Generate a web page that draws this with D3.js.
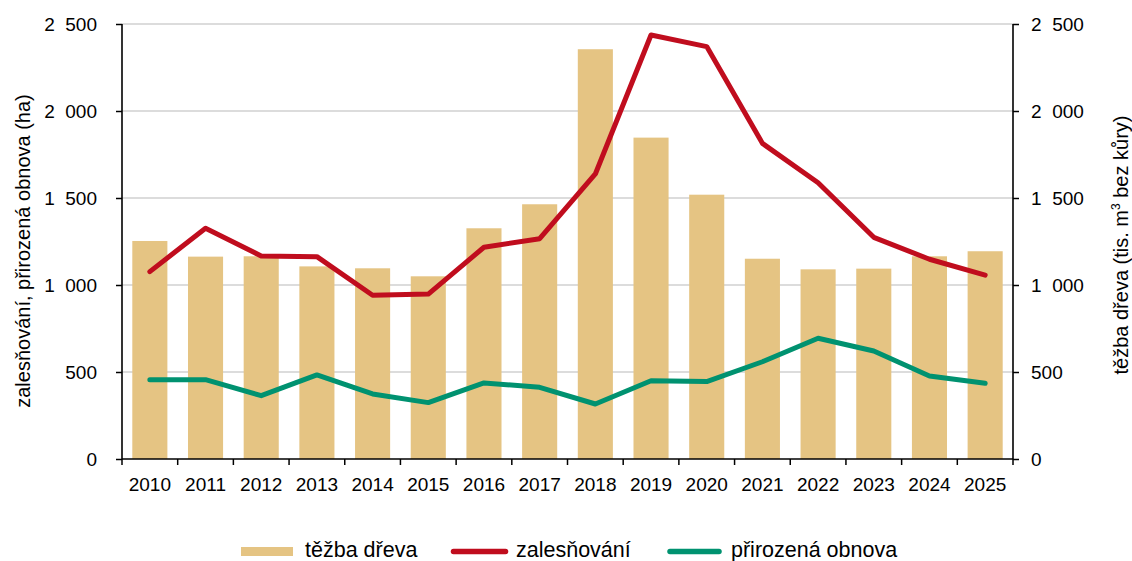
<!DOCTYPE html>
<html><head><meta charset="utf-8">
<script src="https://cdn.jsdelivr.net/npm/d3@7"></script>
<style>body{margin:0;background:#fff}svg{display:block}text{font-family:"Liberation Sans",Arial,sans-serif;fill:#000}</style>
</head><body>
<svg id="c" width="1132" height="561"></svg>
<script>
const years = ["2010","2011","2012","2013","2014","2015","2016","2017","2018","2019","2020","2021","2022","2023","2024","2025"];
const tezba = [1253,1163,1165,1107,1096,1050,1326,1464,2355,1847,1519,1151,1090,1094,1165,1194];
const zalesnovani = [1077,1326,1167,1163,941,948,1217,1266,1638,2437,2370,1814,1588,1274,1148,1057];
const obnova = [456,456,364,483,374,324,437,412,316,450,445,559,694,621,477,435];
const yTicks = [0,500,1000,1500,2000,2500];
const seriesNames = ["těžba dřeva","zalesňování","přirozená obnova"];
const leftTitle = "zalesňování, přirozená obnova (ha)";

const svg = d3.select("#c");
const L=122, R=1013, T=24, B=459;
const x = d3.scaleBand().domain(years).range([L,R]).paddingInner(0.37).paddingOuter(0.185);
const xStep = d3.scalePoint().domain(years).range([L,R]).padding(0.5);
const yL = d3.scaleLinear().domain([0,2500]).range([B,T]);
const yR = d3.scaleLinear().domain([0,2500]).range([B,T]);
const fmt = v => d3.format(",")(v).replace(/,/g,"\u2007");

// grid
svg.append("g").selectAll("line").data(yTicks.filter(d=>d>0)).join("line")
  .attr("x1",L).attr("x2",R).attr("y1",d=>yL(d)).attr("y2",d=>yL(d))
  .attr("stroke","#d0d0d0").attr("stroke-width",1.3);

// bars
svg.append("g").selectAll("rect").data(tezba).join("rect")
  .attr("x",(d,i)=>x(years[i])).attr("width",x.bandwidth())
  .attr("y",d=>yR(d)).attr("height",d=>B-yR(d)).attr("fill","#e5c483");

// lines
const line = d3.line().x((d,i)=>xStep(years[i])).y(d=>yL(d));
svg.append("path").datum(zalesnovani).attr("d",line).attr("fill","none")
  .attr("stroke","#c00d1e").attr("stroke-width",5).attr("stroke-linecap","round").attr("stroke-linejoin","round");
svg.append("path").datum(obnova).attr("d",line).attr("fill","none")
  .attr("stroke","#009270").attr("stroke-width",5).attr("stroke-linecap","round").attr("stroke-linejoin","round");

// axes
const axL = svg.append("g").attr("transform",`translate(${L},0)`)
  .call(d3.axisLeft(yL).tickValues(yTicks).tickFormat(fmt).tickSize(6).tickPadding(19));
const axR = svg.append("g").attr("transform",`translate(${R},0)`)
  .call(d3.axisRight(yR).tickValues(yTicks).tickFormat(fmt).tickSize(6).tickPadding(12));
const axB = svg.append("g").attr("transform",`translate(0,${B})`)
  .call(d3.axisBottom(x).tickSize(0).tickPadding(19));
// x tick marks between categories
svg.append("g").selectAll("line").data(d3.range(years.length+1)).join("line")
  .attr("x1",i=>L+i*(R-L)/years.length).attr("x2",i=>L+i*(R-L)/years.length)
  .attr("y1",B).attr("y2",B+6).attr("stroke","#000").attr("stroke-width",1.5);
[axL,axR,axB].forEach(a=>{
  a.selectAll(".domain").attr("stroke","#000").attr("stroke-width",1.6);
  a.selectAll(".tick line").attr("stroke","#000").attr("stroke-width",1.5);
  a.selectAll("text").style("font-size","19px").attr("fill","#000");
});
axL.select(".domain").attr("d",`M0,${T}V${B}`);
axR.select(".domain").attr("d",`M0,${T}V${B}`);
axB.select(".domain").attr("d",`M${L},0H${R}`);

// axis titles
svg.append("text").attr("transform",`translate(30,251) rotate(-90)`)
  .attr("text-anchor","middle").style("font-size","20px").text(leftTitle);
const rt = svg.append("text").attr("transform",`translate(1128,245) rotate(-90)`)
  .attr("text-anchor","middle").style("font-size","20px");
rt.append("tspan").text("těžba dřeva (tis. m");
rt.append("tspan").attr("dy",-8).style("font-size","12px").text("3");
rt.append("tspan").attr("dy",8).text(" bez kůry)");

// legend
const lg = svg.append("g");
lg.append("rect").attr("x",241).attr("y",547).attr("width",52).attr("height",9).attr("fill","#e5c483");
lg.append("text").attr("x",305).attr("y",557).style("font-size","21.5px").text(seriesNames[0]);
lg.append("line").attr("x1",453.5).attr("x2",505.5).attr("y1",551.5).attr("y2",551.5)
  .attr("stroke","#c00d1e").attr("stroke-width",5.5).attr("stroke-linecap","round");
lg.append("text").attr("x",516).attr("y",557).style("font-size","21.5px").text(seriesNames[1]);
lg.append("line").attr("x1",670).attr("x2",719).attr("y1",551.5).attr("y2",551.5)
  .attr("stroke","#009270").attr("stroke-width",5.5).attr("stroke-linecap","round");
lg.append("text").attr("x",731).attr("y",557).style("font-size","21.5px").text(seriesNames[2]);
</script>
</body></html>
